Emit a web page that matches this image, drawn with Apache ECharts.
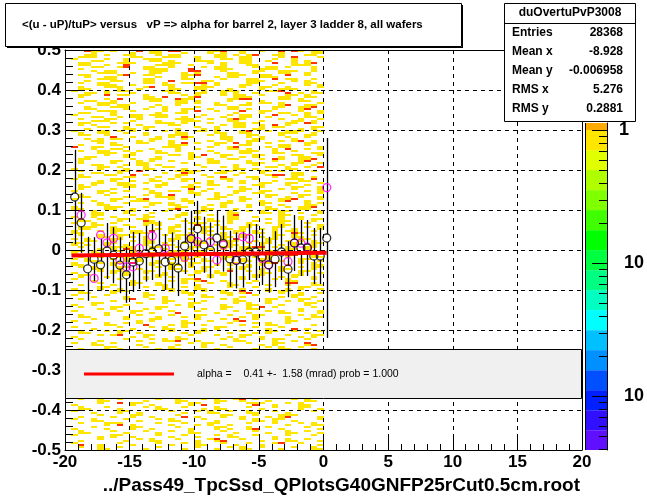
<!DOCTYPE html>
<html><head><meta charset="utf-8">
<script src="https://cdn.jsdelivr.net/npm/echarts@6/dist/echarts.min.js"></script>
<style>html,body{margin:0;padding:0;background:#fff}#c{width:647px;height:499px}</style>
</head><body><div id="c"></div>
<script>
// ---------- data ----------
const titleText = '<(u - uP)/tuP> versus   vP => alpha for barrel 2, layer 3 ladder 8, all wafers';
const xAxisTitle = '../Pass49_TpcSsd_QPlotsG40GNFP25rCut0.5cm.root';
const statsName = 'duOvertuPvP3008';
const statsLabels = ['Entries', 'Mean x', 'Mean y', 'RMS x', 'RMS y'];
const statsValues = ['28368', '-8.928', '-0.006958', '5.276', '0.2881'];
const fitLabel = 'alpha =    0.41 +-  1.58 (mrad) prob = 1.000';

// 2D histogram: columns of 0.5 in x from -20, rows of 0.01 in y from +0.5 (top first);
// each row cell holds two half-bins (upper / lower):
// '.' empty, 'u' upper yellow, 'l' lower yellow, 'y' both yellow,
// 'r' upper red, 'd' lower red, 'a' red over yellow, 'b' yellow over red
const histX0 = -20, histBinW = 0.5, histY0 = 0.5, histBinH = 0.01;
const histRows = [
"...ryu.u..lr.yy.rrl...yua..y..u..a.ru.yy",
"..lyy.u..uyl..ulyy..l..yy.ulyr..uy.d.uul",
".u..llu..y..uyy.l...yll.uu.yy..lu..y.l..",
"..yy..l.ubu...lyyu.l..u.y..uyl..r..ylyr.",
"..l.uu..ur..yyllu..d.u.yyl...ulyy.u...y.",
"....ulyy..l..yyu..lra...ull..yu..yyu.lu.",
"..uy..llur..uul...yur..l.yyu..yyl.r..u..",
"...l.uuyl...yy..d.uu.ll.u...yyl.r.uy.lu.",
"..u..yyl..l.uu.yl.uura.y...lyu..lu...yul",
"..yl..uuy..lur..yl..yyu..l.u..yu.lyl...u",
".u.ll.y.uul....uyl..ly..yuy..l.uurd.l.yl",
"..yu..r.uu..yl.d..ulb...u.yyl.u..lyu.yl.",
"...ll.ulr...uyy..ayul....yurr.l..uu.yl..",
"..u..yyullu...l..yu.u..yl..ly.uu.yd..llu",
"...yl..uuy..lu.y..llu.l..yy.l...yu..ybr.",
"..ll.uuy..u...lu.ly.r..u..lr..yu.ll.ul.y",
".u..ll.ul.yy.uyy..l.lu..lu.yy..lr..u.yl.",
"..u.llyu..lu..l..uyyl.u..yau..l..u.ly.lu",
"..yul..u.u.l..uuylu...u.l.yy.ul.d.yu.ru.",
"...l.uu..yl.yu...l..ul.y..uu.ly.uu..l.yu",
".ul..yy.ulu.l..u.yl.uu.yl..ya..u.lyyu.lu",
"..uu..ud..l.u.l.yubl..u.yl..yul..ul..yu.",
"...uly.uu..l.yu.l.u...l.uy..lyu..l.yd.l.",
"..l..u.yl..uu...yla.u..yu.rly..u.ll..yu.",
".r..yu.llu...l.uuy..l.u..ya.l..ulub..l.y",
"..u..yyl.ulu..yl.u.l..ul...yyu..yl.u..ll",
"...ll.u..yu...l.uu.ylr..yu.l.yu..l.uyl.u",
"..yu...ll.ul.yu.l..u..yl.uu.l.u.au..ybr.",
"..u.ll.u.l.yy.l...u.l.uu..l.uyu..l.yu.lu",
".l...yu.ul..yl.uu.l..u..u.yl.l.uu.yl.u.r",
"..u.ll..yu.r...l.ubyu..lyu.l..yu.u.ll.u.",
"..yl..uu.la.u.l..yu..ul.d.u.ll.uar.yu.l.",
".u...l.yu.l..yl.u.yu..l.uy.l.u..l.uuylr.",
"..l.yu..yyl.u.ly...lu.yl...u.lyu..yu.l.u",
"..yu...l.uu.l.u...ubu.l..u.yl.u..l.yu..y",
".u...yul.u...yl.uu.ylu.l..yu.lyu...l.u.y",
"..yl..u..ll.u.yla...u..ylu.l...yu.l.yu.l",
".u..l..yu.lya...u.yl..uu.l.yu.l..ybr.l.u",
"..u..yl..u...yu.yl.u..l.yu..l.yu.l...ylu",
".yl...yyu.l.u...lbu..yl.u.l.u..yl.u.yyr.",
"..u.yl...yu..l.u..l.yu...yl.u.yl.yu.l..y",
".l..yu.l..u.yl...yu.l.u..ya..l...yu.l.u.",
"..yl.u..yu.ubl..u.l.u.yl.yu..l.u.yl.u.yu",
".u..yl.u.l..yuy..l.ubu.l.u..yl.u.yl..u.l",
"..yyu..yl.u...l.yu.l.yu.yl.yu.l.yu.l.u.y",
".yl..u.yu.yylr..yu.l.yu.l.yu.yl.y.ubl.u.",
"..u..yl.yul.l..u.yul..u.yl.yu.l.yu.yl.u.",
".u.yl..yu.l.yl..yu.yl.u.yla..l.yu.l.yul.",
".yul..yu.l..yu.yl.u.yu.l.yl.u.yu.l.y..yu",
"..u..l.yuby..yul.u.yu.l.yu.yyra.u.yl.yu.",
".yu.yl..u.yu.l..yub.yu..l.yu.l.yu.yl..u.",
"..l..yu.yl.u.yu..yl.yu..yl.u.l.yu.ar..yl",
".u.yl..u.yuy..l.u.yu.yl.u..yl.yu.l..yu.l",
".yl..u.yu.r..yu.yl.yu..l.yu.l.yur.l.u.yl",
"..u.yl..yu.l..u.yl.u.yu..l.yu.l..yl.u.yu",
".l...u.yul..yu.l..u.yu.ylr..u.yl.u..yu.l",
"..yu..l..u..l.yul..u..y.u..l.yu..l.yu.l.",
".u..l...u.l.u...l.yuad..l..u.l..u.yl..u.",
"..l..u.l..yu..yl..u.l.u..yl.u..l..ar..yl",
".l...yu.l...u..yl.u.yl...u.l.u.l..l.yu.l",
"..yl...yuu..l...u.yl.u..yl.ad..u.yu.l..l",
".u..l.u..l..yu.l...u.yl..u.l.u...l.yu.l.",
"..u....l.ur..u.yl..u.l..u.yl...yu.l.yu.l",
".l..yu...l.u...u.l.yu...l.u.yl.u.l...yu.",
"..u..l.yu...l.yu...u.l..yu..ylr.u...l.u.",
".u....l.u.yu.l..ud..u..l..u.l..u.yl.u..y",
"..yl..u..l.u..l.u.l.yu...u.l.yu...l.u.yl",
".l..u....u.l.yu...l.u.l.u.ad.u....yl.u..",
"...u..yl.u.ud...l.yu.l...u.l.u.yl.u...l.",
".u..l...u.l..u.yl.u..l.yu....u.l.u.d.l..",
"..yl..u.yu.l....u.l.yu...l.u.l.yu..u.l.u",
".l...u.ur.l.yu...l.u...u.l.yu.l...u.l.yu",
"..u..l...u.l.u.ylbu.l...u.yl..u.yu.l.u..",
".u..yl.u...l.u...l.u.yu.l...u.l.yu...ad.",
"..l...yul...u.l.yl...u.l.u...l.u.yl.u.l.",
"", "", "", "", "", "", "", "", "", "", "", "",
"..u..yl.u...l.u..yl..u.yl.ua.u.l...u.yl.",
".l...u..r.yu.l...u.yud.u....ubu.l.u.yl..",
"..yl..u.l...u.yl..u..l.yl...u.l.u...yu.l",
".u..l...yu.l....u.l.u.yl.u..yl..u.l...u.",
"..l..u.l..yu.l...ud.l...yu.l.u.l.ybu...l",
".u..yl...u.l..u.yl...u.l...u.yl.yu.l...u",
"..u...yub.l...u.l.u.l.yu.l..u...u.l.u.yl",
".l..u.l...yu.l...u.l...yul..yd.u.l...u.l",
"..yl...u.l..u.l.u..yl...u.l..u.l..yl.u.l",
".u...l.yu.l...u.l.u.l..u.yl..u..l.u...u.",
"..l..u...l.u.yl..u..l.uad..u..l.u.yl.u.l",
".ud..l..u.l...u.l.u.yl..u.l.u.l.ur..u..l",
"..u..yl.u...l.u...l.u..l.u.yl.u..l.u..yl"
];
const cellColors = { Y: '#ffe600', R: '#ff3300' };

// profile (black, with errors)
const profX = [-19.25,-18.75,-18.25,-17.75,-17.25,-16.75,-16.25,-15.75,-15.25,-14.75,-14.25,-13.75,-13.25,-12.75,-12.25,-11.75,-11.25,-10.75,-10.25,-9.75,-9.25,-8.75,-8.25,-7.75,-7.25,-6.75,-6.25,-5.75,-5.25,-4.75,-4.25,-3.75,-3.25,-2.75,-2.25,-1.75,-1.25,-0.75,-0.25,0.25];
const profY = [0.1325,0.068,-0.047,-0.023,-0.037,-0.0025,-0.013,-0.038,-0.062,-0.03,-0.0275,-0.009,-0.005,0.003,-0.03,-0.026,-0.045,0.01,0.028,0.053,0.013,-0.001,0.03,0.016,-0.022,-0.026,-0.024,-0.005,-0.005,-0.0175,-0.037,-0.023,-0.005,-0.048,0.0175,0.005,0.005,-0.015,-0.015,0.03];
const profErr = [0.118,0.075,0.08,0.055,0.065,0.07,0.07,0.07,0.07,0.075,0.07,0.07,0.07,0.07,0.07,0.07,0.07,0.07,0.07,0.07,0.07,0.07,0.07,0.07,0.07,0.07,0.07,0.07,0.07,0.07,0.07,0.07,0.07,0.07,0.07,0.07,0.07,0.07,0.07,0.25];
// second set (magenta, no errors)
const magX = [-18.75,-17.75,-17.25,-16.75,-16.25,-15.75,-15.25,-14.75,-14.25,-13.25,-12.25,-10.75,-10.25,-9.75,-8.75,-8.25,-7.75,-6.75,-6.25,-5.75,-4.75,-4.25,-2.75,-2.25,-1.75,-1.25,0.25];
const magY = [0.0875,-0.071,0.0375,0.018,0.029,-0.025,-0.042,-0.042,0.004,0.035,0.004,-0.018,0.029,0.021,0.021,-0.025,0.0125,-0.025,0.033,0.029,-0.021,-0.0375,-0.029,0.017,0.017,0.007,0.156];
// fit line
const fitX = [-19.5, 0.25];
const fitY = [-0.0138, -0.0068];

// colour palette (log z): band edges as log10(z), colours bottom -> top
const palLogEdges = [-2.406,-2.257,-2.107,-1.956,-1.806,-1.655,-1.505,-1.354,-1.204,-1.054,-0.903,-0.753,-0.602,-0.452,-0.301,-0.151,0,0.0526];
const palColors = ['#6010ff','#3010ff','#0020ff','#0050ff','#0090ff','#00c0ff','#00ffff','#00ffc0','#00ff80','#00ff40','#00ff00','#40ff00','#80ff00','#b0ff00','#e0ff00','#ffe600','#ffaa00'];
const palMinorTicks = [0.9,0.8,0.7,0.6,0.5,0.4,0.3,0.2,0.09,0.08,0.07,0.06,0.05,0.04,0.03,0.02,0.009,0.008,0.007,0.006,0.005,0.004];

// ---------- build ----------
const halfCode = { u: ['Y', null], l: [null, 'Y'], y: ['Y', 'Y'], r: ['R', null], d: [null, 'R'], a: ['R', 'Y'], b: ['Y', 'R'] };
const cells = [];
histRows.forEach((row, k) => {
  for (let i = 0; i < Math.min(row.length, 40); i++) {
    const h = halfCode[row[i]];
    if (!h) continue;
    const xc = histX0 + histBinW * (i + 0.5);
    if (h[0]) cells.push([xc, histY0 - histBinH * (k + 0.25), h[0]]);
    if (h[1]) cells.push([xc, histY0 - histBinH * (k + 0.75), h[1]]);
  }
});
const profData = profX.map((x, i) => [x, profY[i]]);
const errData = profX.map((x, i) => [x, profY[i] - profErr[i], profY[i] + profErr[i]]);
const magData = magX.map((x, i) => [x, magY[i]]);
const fitData = fitX.map((x, i) => [x, fitY[i]]);
const palData = palColors.map((c, i) => [0, Math.pow(10, palLogEdges[i]), Math.pow(10, palLogEdges[i + 1])]);
const palTickData = palMinorTicks.map(v => [1, v]);

const FONT = 'Liberation Sans, Arial, Helvetica, sans-serif';
const chart = echarts.init(document.getElementById('c'));
const palMin = Math.pow(10, palLogEdges[0]);
const palMax = Math.pow(10, palLogEdges[palLogEdges.length - 1]);
const frameLine = { show: true, onZero: false, lineStyle: { color: '#000', width: 1 } };

const option = {
  animation: false,
  backgroundColor: '#fff',
  grid: [
    { left: 65, top: 50, width: 517, height: 400, show: false },
    { left: 585, top: 123, width: 29, height: 327, show: false }
  ],
  xAxis: [
    { gridIndex: 0, type: 'value', min: -20, max: 20, interval: 5, z: 1.5, position: 'bottom',
      axisLine: frameLine,
      axisTick: { inside: true, length: 12, lineStyle: { color: '#000' } },
      minorTick: { show: true, splitNumber: 5, length: 6, lineStyle: { color: '#000' } },
      axisLabel: { color: '#000', fontFamily: FONT, fontWeight: 'bold', fontSize: 17, margin: 4 },
      splitLine: { show: true, lineStyle: { color: '#000', width: 1, type: [4, 4] } } },
    { gridIndex: 0, type: 'value', min: -20, max: 20, position: 'top', z: 1.5,
      axisLine: frameLine, axisTick: { show: false }, axisLabel: { show: false }, splitLine: { show: false } },
    { gridIndex: 1, type: 'value', min: 0, max: 1, show: false, axisLine: { onZero: false } }
  ],
  yAxis: [
    { gridIndex: 0, type: 'value', min: -0.5, max: 0.5, interval: 0.1, z: 1.5, position: 'left',
      axisLine: frameLine,
      axisTick: { inside: true, length: 16, lineStyle: { color: '#000' } },
      minorTick: { show: true, splitNumber: 5, length: 8, lineStyle: { color: '#000' } },
      axisLabel: { color: '#000', fontFamily: FONT, fontWeight: 'bold', fontSize: 17, margin: 4 },
      splitLine: { show: true, lineStyle: { color: '#000', width: 1, type: [4, 4] } } },
    { gridIndex: 0, type: 'value', min: -0.5, max: 0.5, position: 'right', z: 1.5,
      axisLine: frameLine, axisTick: { show: false }, axisLabel: { show: false }, splitLine: { show: false } },
    { gridIndex: 1, type: 'log', min: palMin, max: palMax, position: 'right', z: 3,
      axisLine: frameLine,
      axisTick: { show: true, inside: true, length: 15, lineStyle: { color: '#000' } },
      axisLabel: { color: '#000', fontFamily: FONT, fontWeight: 'bold', fontSize: 18, margin: 12,
        showMinLabel: false, showMaxLabel: false,
        formatter: v => (v > 0.5 ? '1' : '{p|10}'),
        rich: { p: { padding: [0, 0, 0, 5], color: '#000', fontFamily: FONT, fontWeight: 'bold', fontSize: 18 } } },
      splitLine: { show: false } }
  ],
  series: [
    { type: 'custom', xAxisIndex: 0, yAxisIndex: 0, z: 1, data: cells, encode: { x: 0, y: 1 },
      renderItem: function (params, api) {
        const x = api.value(0), y = api.value(1);
        const key = cells[params.dataIndex][2];
        const a = api.coord([x - histBinW / 2, y + histBinH / 4]);
        const b = api.coord([x + histBinW / 2, y - histBinH / 4]);
        const x0 = Math.round(a[0]), y0 = Math.round(a[1]);
        return { type: 'rect', shape: { x: x0, y: y0, width: Math.round(b[0]) - x0, height: Math.round(b[1]) - y0 },
          style: { fill: cellColors[key] } };
      } },
    { type: 'custom', xAxisIndex: 0, yAxisIndex: 0, z: 3, data: errData, encode: { x: 0, y: [1, 2] },
      renderItem: function (params, api) {
        const x = api.value(0);
        const lo = api.coord([x, api.value(1)]);
        const hi = api.coord([x, api.value(2)]);
        const c = api.coord([x, profY[params.dataIndex]]);
        const r = 4;
        const xx = Math.round(lo[0]) + 0.5;
        return { type: 'group', children: [
          { type: 'line', shape: { x1: xx, y1: hi[1], x2: xx, y2: c[1] - r }, style: { stroke: '#000', lineWidth: 1.3 } },
          { type: 'line', shape: { x1: xx, y1: c[1] + r, x2: xx, y2: lo[1] }, style: { stroke: '#000', lineWidth: 1.3 } }
        ] };
      } },
    { type: 'scatter', xAxisIndex: 0, yAxisIndex: 0, z: 4, data: magData, symbol: 'circle', symbolSize: 8,
      itemStyle: { color: 'rgba(0,0,0,0)', borderColor: '#ff00ff', borderWidth: 1.3 } },
    { type: 'scatter', xAxisIndex: 0, yAxisIndex: 0, z: 4, data: profData, symbol: 'circle', symbolSize: 8,
      itemStyle: { color: 'rgba(0,0,0,0)', borderColor: '#000', borderWidth: 1.3 } },
    { type: 'line', xAxisIndex: 0, yAxisIndex: 0, z: 5, data: fitData, showSymbol: false, symbol: 'none',
      lineStyle: { color: '#ff0000', width: 4 } },
    { type: 'custom', xAxisIndex: 2, yAxisIndex: 2, z: 2, data: palData, encode: { x: 0, y: [1, 2] },
      renderItem: function (params, api) {
        const a = api.coord([0, api.value(2)]);
        const b = api.coord([1, api.value(1)]);
        const xl = Math.round(a[0]);
        return { type: 'group', children: [
          { type: 'rect', shape: { x: xl, y: a[1], width: Math.round(b[0]) - xl, height: b[1] - a[1] },
            style: { fill: palColors[params.dataIndex] } },
          { type: 'line', shape: { x1: xl + 0.5, y1: a[1], x2: xl + 0.5, y2: b[1] }, style: { stroke: '#000', lineWidth: 1 } }
        ] };
      } },
    { type: 'custom', xAxisIndex: 2, yAxisIndex: 2, z: 4, data: palTickData, encode: { x: 0, y: 1 },
      renderItem: function (params, api) {
        const p = api.coord([1, api.value(1)]);
        const y = Math.round(p[1]) + 0.5;
        return { type: 'line', shape: { x1: p[0] - 8, y1: y, x2: p[0], y2: y }, style: { stroke: '#000', lineWidth: 1 } };
      } }
  ],
  graphic: [
    { type: 'rect', z: 11, shape: { x: 5.5, y: 3.5, width: 456, height: 43 }, style: { fill: '#fff', stroke: '#000', lineWidth: 1 } },
    { type: 'line', z: 12, shape: { x1: 7, y1: 47.5, x2: 463, y2: 47.5 }, style: { stroke: '#000', lineWidth: 1 } },
    { type: 'line', z: 12, shape: { x1: 462.5, y1: 5, x2: 462.5, y2: 48 }, style: { stroke: '#000', lineWidth: 1 } },
    { type: 'text', z: 12, x: 22, y: 25, style: { text: titleText, fontFamily: FONT, fontSize: 11.5, fontWeight: 'bold', fill: '#000', verticalAlign: 'middle' } },
    { type: 'rect', z: 11, shape: { x: 504.5, y: 3.5, width: 131, height: 118 }, style: { fill: '#fff', stroke: '#000', lineWidth: 1 } },
    { type: 'line', z: 12, shape: { x1: 504.5, y1: 23.5, x2: 635.5, y2: 23.5 }, style: { stroke: '#000', lineWidth: 1 } },
    { type: 'text', z: 12, x: 570, y: 13, style: { text: statsName, fontFamily: FONT, fontSize: 12, fontWeight: 'bold', fill: '#000', align: 'center', verticalAlign: 'middle' } },
    ...statsLabels.map((t, i) => ({ type: 'text', z: 12, x: 512, y: 33 + 19 * i, style: { text: t, fontFamily: FONT, fontSize: 12, fontWeight: 'bold', fill: '#000', verticalAlign: 'middle' } })),
    ...statsValues.map((t, i) => ({ type: 'text', z: 12, x: 623, y: 33 + 19 * i, style: { text: t, fontFamily: FONT, fontSize: 12, fontWeight: 'bold', fill: '#000', align: 'right', verticalAlign: 'middle' } })),
    { type: 'rect', z: 11, shape: { x: 65.5, y: 349.5, width: 516, height: 49 }, style: { fill: '#f0f0f0', stroke: '#000', lineWidth: 1 } },
    { type: 'line', z: 12, shape: { x1: 84, y1: 374, x2: 174, y2: 374 }, style: { stroke: '#ff0000', lineWidth: 3 } },
    { type: 'text', z: 12, x: 197, y: 374, style: { text: fitLabel, fontFamily: FONT, fontSize: 10.5, fill: '#000', verticalAlign: 'middle' } },
    { type: 'text', z: 12, x: 580, y: 486, style: { text: xAxisTitle, fontFamily: FONT, fontSize: 19, fontWeight: 'bold', fill: '#000', align: 'right', verticalAlign: 'middle' } }
  ]
};
chart.setOption(option);
</script>
</body></html>
